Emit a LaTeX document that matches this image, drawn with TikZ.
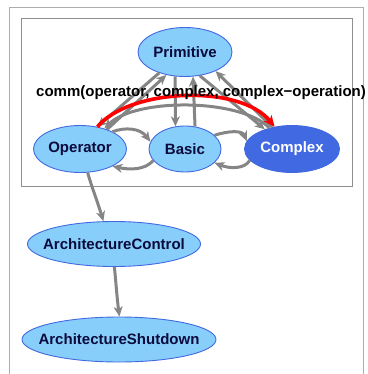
\documentclass[tikz,border=0pt]{standalone}
\usepackage{fontspec}
\setmainfont{Liberation Sans}
\usetikzlibrary{shapes.geometric,arrows.meta}
\definecolor{nodefill}{HTML}{87CEFA}
\definecolor{nodeline}{HTML}{4169E1}
\definecolor{cfill}{HTML}{4169E1}
\definecolor{navy}{RGB}{10,10,60}
\definecolor{edgegray}{HTML}{858585}
\definecolor{framegray}{HTML}{999999}
\newcommand{\zw}[1]{\makebox[0pt]{#1}}
\tikzset{
  gnode/.style={ellipse, draw=nodeline, fill=nodefill, line width=0.9pt, inner sep=0pt,
    text=navy, font=\fontsize{15}{18}\selectfont\bfseries},
  cnode/.style={gnode, fill=cfill, text=white},
  gedge/.style={draw=edgegray, line width=3pt, -{Stealth[length=10pt,width=9pt,inset=3pt]}},
  redge/.style={draw=red, line width=3.6pt, -{Stealth[length=11pt,width=10pt,inset=3pt]}},
  frame/.style={draw=framegray, line width=1pt},
}
\begin{document}
\begin{tikzpicture}[x=1pt,y=-1pt]
\useasboundingbox (0,0) rectangle (367,374);
\begin{scope}
\clip (0,0) rectangle (367,374);
\draw[frame, draw=framegray!80] (9.5,7.5) rectangle (363.5,400);
\end{scope}
\draw[frame, draw=framegray!110] (21.5,18.5) rectangle (352,186);

\node[gnode, minimum width=94pt, minimum height=49pt] (prim) at (185,52) {\zw{Primitive}};
\node[gnode, minimum width=93pt, minimum height=47pt] (op) at (80,149) {\zw{Operator}};
\node[gnode, minimum width=72pt, minimum height=46pt] (basic) at (185,149) {\zw{Basic}};
\node[cnode, minimum width=95pt, minimum height=47pt] (cx) at (292,149) {\zw{Complex}};
\node[gnode, minimum width=173pt, minimum height=45pt] (ac) at (114,244) {\zw{ArchitectureControl}};
\node[gnode, minimum width=194pt, minimum height=45pt] (as) at (119,339.5) {\zw{ArchitectureShutdown}};

% Primitive <-> Operator
\draw[gedge] (prim.219) -- (op.52);
\draw[gedge] (op.36) -- (prim.231);
% Primitive <-> Basic
\draw[gedge] (prim.248) -- (basic.113);
\draw[gedge] (basic.66) -- (prim.288);
% Primitive <-> Complex
\draw[gedge] (prim.302) -- (cx.144);
\draw[gedge] (cx.132) -- (prim.328);
% Complex -> Operator arc
\draw[gedge] (cx.137) .. controls (240,98) and (135,98) .. (op.40);
% Operator <-> Basic
\draw[gedge] (op.28) .. controls (125,127) and (140,128) .. (basic.168);
\draw[gedge] (basic.200) .. controls (145,170) and (130,170) .. (op.332);
% Basic <-> Complex
\draw[gedge] (basic.25) .. controls (228,131) and (242,130) .. (cx.170);
\draw[gedge] (cx.195) .. controls (245,169) and (230,169) .. (basic.335);
% Operator -> ArchitectureControl -> ArchitectureShutdown
\draw[gedge] (op.288) .. controls (92,188) and (98,203) .. (ac.115);
\draw[gedge] (ac.271) .. controls (116,283) and (117,298) .. (as.89);
% red communication edge
\draw[redge] (op.52) .. controls (130,88) and (240,84) .. (cx.128);
\node[font=\fontsize{15}{18}\selectfont\bfseries, text=black, inner sep=0pt] (lbl) at (201,93) {comm(operator, complex, complex−operation)};
\end{tikzpicture}
\end{document}
